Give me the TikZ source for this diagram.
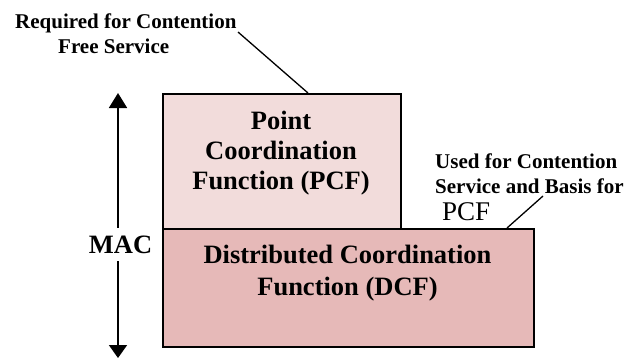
\documentclass[tikz,border=0pt]{standalone}
\usepackage{fontspec}
\setmainfont{Liberation Serif}
\usetikzlibrary{arrows.meta}
\definecolor{pcffill}{RGB}{242,220,219}
\definecolor{dcffill}{RGB}{230,185,184}
\tikzset{
  layerbox/.style={draw=black, line width=1.8bp, inner sep=0pt, anchor=north west},
  boxtext/.style={inner sep=0pt, align=center, font=\bfseries\fontsize{26.5bp}{30bp}\selectfont},
  smalllbl/.style={inner sep=0pt, align=left, font=\bfseries\fontsize{21bp}{25bp}\selectfont},
  leader/.style={line width=1.3bp},
  macarrow/.style={line width=1.8bp, {Triangle[width=18bp,length=15bp]}-{Triangle[width=18bp,length=13bp]}}
}
\begin{document}
\begin{tikzpicture}[x=1bp,y=-1bp]
\useasboundingbox (0,0) rectangle (642,358);
% boxes
\node[layerbox, fill=pcffill, minimum width=238bp, minimum height=135bp] (pcf) at (162,93) {};
\node[layerbox, fill=dcffill, minimum width=371bp, minimum height=118bp] (dcf) at (162,228) {};
% box texts
\node[boxtext] (pcftext) at (281,153) {Point\\Coordination\\Function (PCF)};
\node[boxtext, font=\bfseries\fontsize{26.5bp}{31.7bp}\selectfont] (dcftext) at (347.5,273) {Distributed Coordination\\Function (DCF)};
% MAC arrow
\coordinate (atop) at (118,93);
\coordinate (abot) at (118,358);
\draw[macarrow] (atop) -- (abot);
\node[fill=white, inner xsep=1bp, inner ysep=8bp, font=\bfseries\fontsize{26.5bp}{30bp}\selectfont] (mac) at (120.5,244.5) {MAC};
% top label
\node[smalllbl, anchor=north west] (reqlbl) at (15,13.5) {Required for Contention\\\hspace*{43bp}Free Service};
\coordinate (reqend) at (238,32);
\draw[leader] (reqend) -- (pcf.north west -| 308,0);
% right label
\node[smalllbl, anchor=north west] (usedlbl) at (435,153.5) {Used for Contention\\Service and Basis for};
\node[inner sep=0pt, anchor=base west, font=\fontsize{27bp}{30bp}\selectfont] (usedpcf) at (442,220) {PCF};
\coordinate (usedend) at (543,196);
\draw[leader] (usedend) -- (dcf.north west -| 507,0);
\end{tikzpicture}
\end{document}
